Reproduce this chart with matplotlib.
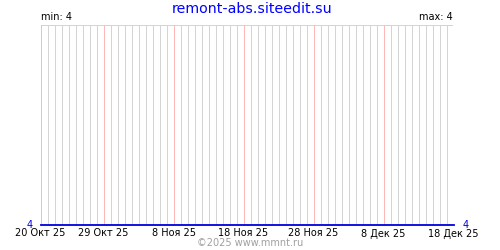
import datetime as dt
import numpy as np
import matplotlib
matplotlib.use('Agg')
import matplotlib.pyplot as plt
import matplotlib.dates as mdates

# daily values, 20 Oct 2025 .. 18 Dec 2025
start = dt.date(2025, 10, 20)
values = [4, 4, 4, 4, 4, 4, 4, 4, 4, 4,
          4, 4, 4, 4, 4, 4, 4, 4, 4, 4,
          4, 4, 4, 4, 4, 4, 4, 4, 4, 4,
          4, 4, 4, 4, 4, 4, 4, 4, 4, 4,
          4, 4, 4, 4, 4, 4, 4, 4, 4, 4,
          4, 4, 4, 4, 4, 4, 4, 4, 4, 4]
days = [start + dt.timedelta(days=i) for i in range(len(values))]

major_dates = [dt.date(2025, 10, 20), dt.date(2025, 10, 29), dt.date(2025, 11, 8),
               dt.date(2025, 11, 18), dt.date(2025, 11, 28), dt.date(2025, 12, 8),
               dt.date(2025, 12, 18)]
tick_labels = ['20 Окт 25', '29 Окт 25', '8 Ноя 25', '18 Ноя 25',
               '28 Ноя 25', '8 Дек 25', '18 Дек 25']
title = 'remont-abs.siteedit.su'
footer = '©2025 www.mmnt.ru'

fig = plt.figure(figsize=(5, 2.5), dpi=100)
ax = fig.add_axes([40.5 / 500, 25 / 250, 413 / 500, 200 / 250])

vmin, vmax = min(values), max(values)
ax.set_xlim(days[0], days[-1])
ax.set_ylim(vmin, vmin + 1)

# day grid (gray), 10-day grid (pink)
minor = [d for d in days if d not in major_dates]
ax.vlines(minor, 0, 1, transform=ax.get_xaxis_transform(), colors='#d4d4d4',
          lw=0.72, antialiased=False, zorder=1)
ax.vlines(major_dates, 0, 1, transform=ax.get_xaxis_transform(), colors='#ffb8b8',
          lw=0.72, antialiased=False, zorder=2)
ax.axhline(vmin + 1, color='#d4d4d4', lw=0.72, antialiased=False, zorder=1)

ax.set_xticks(major_dates)
ax.set_xticklabels(tick_labels, fontsize=7)
ax.tick_params(which='both', length=0, pad=2.5)
ax.set_yticks([])
for s in ax.spines.values():
    s.set_visible(False)

ax.plot(days, values, color='#0000dd', lw=1.3, clip_on=False, zorder=5)

ax.text(-0.019, 4, str(vmin), transform=ax.get_yaxis_transform(), color='#0000dd',
        fontsize=7, ha='right', va='center')
ax.text(1.022, 4, str(vmax), transform=ax.get_yaxis_transform(), color='#0000dd',
        fontsize=7, ha='left', va='center')

ax.text(0.002, 1.015, 'min: ' + str(vmin), transform=ax.transAxes, fontsize=7,
        ha='left', va='bottom')
ax.text(0.998, 1.015, 'max: ' + str(vmax), transform=ax.transAxes, fontsize=7,
        ha='right', va='bottom')

fig.text(0.505, 0.965, title, color='#0000ff', fontsize=10.2, ha='center', va='center')
fig.text(0.5, 0.028, footer, color='#a0a0a0', fontsize=7, ha='center', va='center')

fig.savefig('out.png', dpi=100)
